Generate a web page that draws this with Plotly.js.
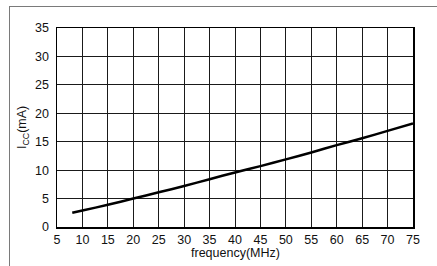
<!DOCTYPE html>
<html>
<head>
<meta charset="utf-8">
<script src="https://cdn.plot.ly/plotly-3.0.1.min.js"></script>
<style>
html,body{margin:0;padding:0;background:#fff;}
#wrap{position:relative;width:437px;height:266px;overflow:hidden;}
#frame{position:absolute;left:9px;top:6px;width:440px;height:270px;border-top:1.5px solid #7a7a7a;border-left:1.5px solid #7a7a7a;pointer-events:none;}
#chart{position:absolute;left:0;top:0;width:437px;height:266px;}
</style>
</head>
<body>
<div id="wrap">
<div id="frame"></div>
<div id="chart"></div>
</div>
<script>
var frequency = [8, 10, 15, 20, 25, 30, 35, 40, 45, 50, 55, 60, 65, 70, 75];
var icc = [2.5, 2.9, 3.9, 5.0, 6.1, 7.2, 8.4, 9.6, 10.7, 11.9, 13.1, 14.4, 15.6, 16.9, 18.2];
var xTicks = [5, 10, 15, 20, 25, 30, 35, 40, 45, 50, 55, 60, 65, 70, 75];
var yTicks = [0, 5, 10, 15, 20, 25, 30, 35];
var xTitle = 'frequency(MHz)';
var yTitle = 'I<sub>CC</sub>(mA)';

var font = {family: 'Liberation Sans, Arial, sans-serif', size: 12.5, color: '#111'};

Plotly.newPlot('chart', [{
  x: frequency, y: icc, type: 'scatter', mode: 'lines',
  line: {color: '#000', width: 2.5, shape: 'spline', smoothing: 0.6},
  hoverinfo: 'none'
}], {
  width: 437, height: 266,
  margin: {l: 57, r: 24, t: 28, b: 39, pad: 0},
  paper_bgcolor: 'rgba(0,0,0,0)', plot_bgcolor: '#fff',
  showlegend: false,
  font: font,
  xaxis: {
    range: [5, 75], tickvals: xTicks, ticktext: xTicks.map(String),
    showgrid: true, gridcolor: '#1a1a1a', gridwidth: 1,
    showline: true, linecolor: '#000', linewidth: 1.5, mirror: true,
    zeroline: false, ticks: '', tickfont: font
  },
  yaxis: {
    range: [0, 35], tickvals: yTicks, ticktext: yTicks.map(String),
    showgrid: true, gridcolor: '#1a1a1a', gridwidth: 1,
    showline: true, linecolor: '#000', linewidth: 1.5, mirror: true,
    zeroline: false, ticks: '', tickfont: font, ticklabelstandoff: 4
  },
  annotations: [
    {text: xTitle, xref: 'paper', yref: 'paper', x: 0.5, y: -0.13,
     xanchor: 'center', yanchor: 'middle', showarrow: false, font: font},
    {text: yTitle, xref: 'paper', yref: 'paper', x: -0.097, y: 0.5,
     xanchor: 'center', yanchor: 'middle', textangle: -90, showarrow: false, font: font}
  ]
}, {staticPlot: true, displayModeBar: false});
</script>
</body>
</html>
